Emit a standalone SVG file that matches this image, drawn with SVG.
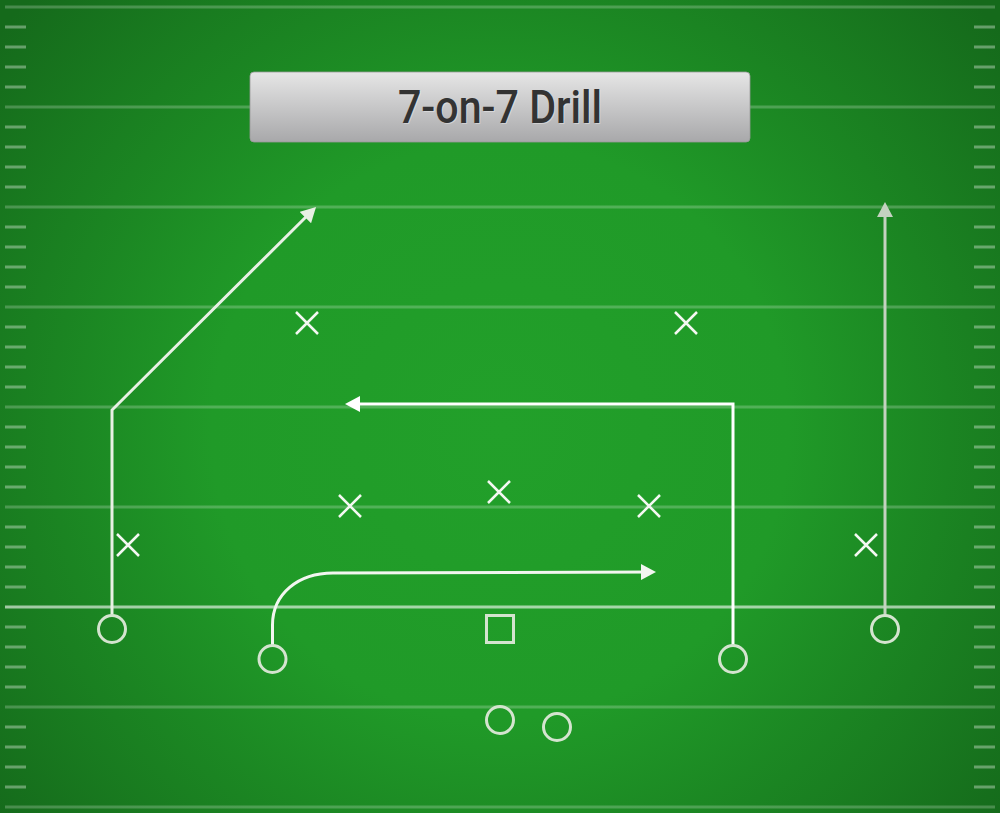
<svg xmlns="http://www.w3.org/2000/svg" width="1000" height="813" viewBox="0 0 1000 813">
<defs>
<radialGradient id="bg" cx="500" cy="430" r="640" gradientUnits="userSpaceOnUse">
<stop offset="0" stop-color="#22a02a"/>
<stop offset="0.45" stop-color="#209a28"/>
<stop offset="1" stop-color="#156a1b"/>
</radialGradient>
<linearGradient id="title" x1="0" y1="0" x2="0" y2="1">
<stop offset="0" stop-color="#e6e6e6"/>
<stop offset="1" stop-color="#a8a8aa"/>
</linearGradient>
<marker id="ahW" markerUnits="userSpaceOnUse" viewBox="0 0 15 16" markerWidth="15" markerHeight="16" refX="11" refY="8" orient="auto"><path d="M0,0 L15,8 L0,16 z" fill="#ffffff"/></marker>
<marker id="ah1" markerUnits="userSpaceOnUse" viewBox="0 0 15 16" markerWidth="15" markerHeight="16" refX="11" refY="8" orient="auto"><path d="M0,0 L15,8 L0,16 z" fill="#e8f0e4"/></marker>
<marker id="ah3" markerUnits="userSpaceOnUse" viewBox="0 0 15 16" markerWidth="15" markerHeight="16" refX="11" refY="8" orient="auto"><path d="M0,0 L15,8 L0,16 z" fill="#f2f6f0"/></marker>
<marker id="ah4" markerUnits="userSpaceOnUse" viewBox="0 0 15 16" markerWidth="15" markerHeight="16" refX="11" refY="8" orient="auto"><path d="M0,0 L15,8 L0,16 z" fill="#c4d2c0"/></marker>
</defs>
<style>
.yd{stroke:#ffffff;stroke-opacity:0.22;stroke-width:3;}
.los{stroke:#ffffff;stroke-opacity:0.6;stroke-width:3;}
.hash{stroke:#ffffff;stroke-opacity:0.35;stroke-width:3;}
.off{fill:none;stroke:#d4e4cf;stroke-width:3;}
.def{stroke:#f4f8f2;stroke-width:2.5;fill:none;}
.route{fill:none;stroke-width:3;}
.ttl{font-family:Roboto,"Liberation Sans",sans-serif;font-size:46px;font-weight:500;fill:#333333;}
</style>
<rect width="1000" height="813" fill="url(#bg)"/>
<g id="field">
<line class="yd" x1="5" y1="7" x2="995" y2="7"/>
<line class="yd" x1="5" y1="107" x2="995" y2="107"/>
<line class="yd" x1="5" y1="207" x2="995" y2="207"/>
<line class="yd" x1="5" y1="307" x2="995" y2="307"/>
<line class="yd" x1="5" y1="407" x2="995" y2="407"/>
<line class="yd" x1="5" y1="507" x2="995" y2="507"/>
<line class="los" x1="5" y1="607" x2="995" y2="607"/>
<line class="yd" x1="5" y1="707" x2="995" y2="707"/>
<line class="yd" x1="5" y1="807" x2="995" y2="807"/>
<path class="hash" d="M5,27h21M5,47h21M5,67h21M5,87h21M5,127h21M5,147h21M5,167h21M5,187h21M5,227h21M5,247h21M5,267h21M5,287h21M5,327h21M5,347h21M5,367h21M5,387h21M5,427h21M5,447h21M5,467h21M5,487h21M5,527h21M5,547h21M5,567h21M5,587h21M5,627h21M5,647h21M5,667h21M5,687h21M5,727h21M5,747h21M5,767h21M5,787h21"/>
<path class="hash" d="M974,27h21M974,47h21M974,67h21M974,87h21M974,127h21M974,147h21M974,167h21M974,187h21M974,227h21M974,247h21M974,267h21M974,287h21M974,327h21M974,347h21M974,367h21M974,387h21M974,427h21M974,447h21M974,467h21M974,487h21M974,527h21M974,547h21M974,567h21M974,587h21M974,627h21M974,647h21M974,667h21M974,687h21M974,727h21M974,747h21M974,767h21M974,787h21"/>
</g>
<g id="title-box">
<rect x="250" y="72" width="500" height="70" rx="4" fill="url(#title)" stroke="#9a9a9a" stroke-width="0.8"/>
<text class="ttl" x="501" y="124" text-anchor="middle" textLength="204" lengthAdjust="spacingAndGlyphs" style="fill:#ffffff;fill-opacity:0.35">7-on-7 Drill</text>
<text class="ttl" x="500" y="123" text-anchor="middle" textLength="204" lengthAdjust="spacingAndGlyphs">7-on-7 Drill</text>
</g>
<g id="connectors">
<path class="route" stroke="#e8f0e4" d="M112,616 L112,410 L313.2,209.8" marker-end="url(#ah1)"/>
<path class="route" stroke="#ffffff" d="M733,646 L733,404 L349,404" marker-end="url(#ahW)"/>
<path class="route" stroke="#f2f6f0" d="M272.5,645.5 L272.5,625 C272.5,594 298,573 333,573 L652,572" marker-end="url(#ah3)"/>
<path class="route" stroke="#c4d2c0" d="M885,616 L885,206" marker-end="url(#ah4)"/>
</g>
<g id="offense">
<circle id="wr-left" class="off" cx="112" cy="629" r="13.5"/>
<circle id="rb-left" class="off" cx="272.5" cy="659" r="13.5"/>
<rect id="center" class="off" x="486.5" y="615.5" width="27" height="27"/>
<circle id="te-right" class="off" cx="733" cy="659" r="13.5"/>
<circle id="wr-right" class="off" cx="885" cy="629" r="13.5" stroke="#c4d2c0"/>
<circle id="qb" class="off" cx="500" cy="720" r="13.5"/>
<circle id="rb" class="off" cx="557" cy="727" r="13.5"/>
</g>
<g id="defense">
<path id="d1" class="def" d="M296,312 L318,334 M318,312 L296,334"/>
<path id="d2" class="def" d="M675,312 L697,334 M697,312 L675,334"/>
<path id="d3" class="def" d="M339,495 L361,517 M361,495 L339,517"/>
<path id="d4" class="def" d="M488,481 L510,503 M510,481 L488,503"/>
<path id="d5" class="def" d="M638,495 L660,517 M660,495 L638,517"/>
<path id="d6" class="def" stroke="#dce8d8" d="M117,534 L139,556 M139,534 L117,556"/>
<path id="d7" class="def" stroke="#dce8d8" d="M855,534 L877,556 M877,534 L855,556"/>
</g>
</svg>
